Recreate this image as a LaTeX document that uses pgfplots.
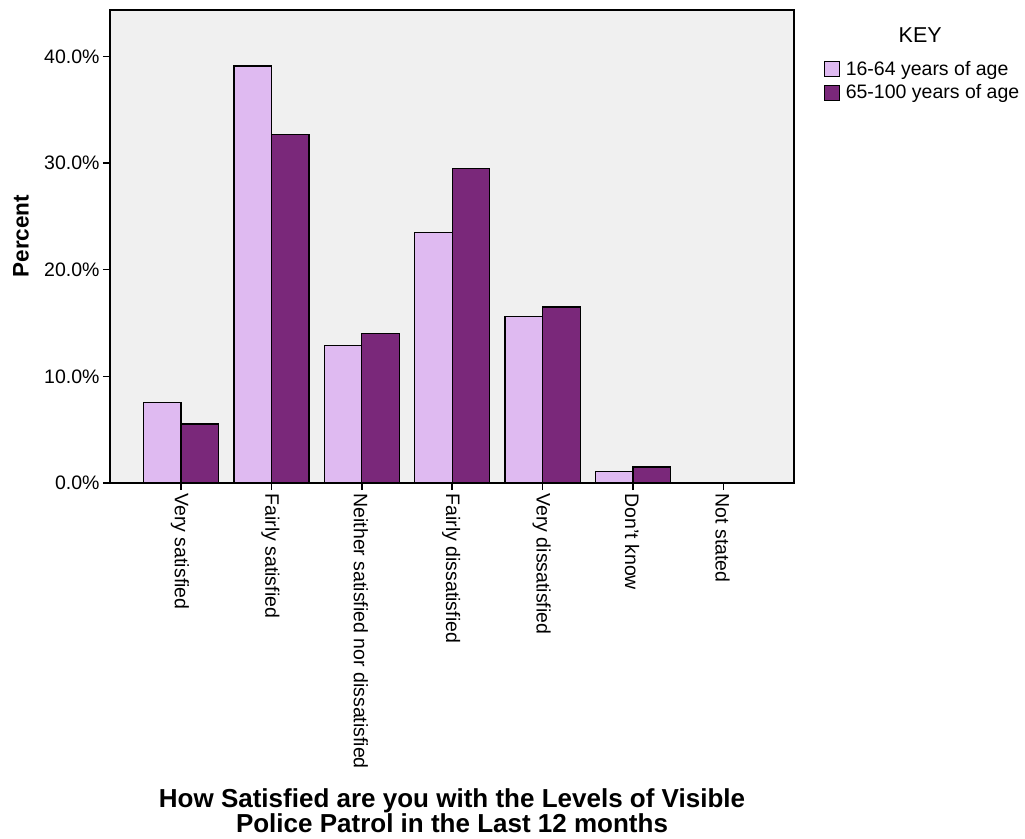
\documentclass[border=0pt]{standalone}
\usepackage{pgfplots}
\pgfplotsset{compat=1.18}
\usepackage{fontspec}
\setmainfont{Liberation Sans}
\definecolor{lightpurple}{RGB}{223,186,241}
\definecolor{darkpurple}{RGB}{122,40,122}
\definecolor{bggray}{RGB}{240,240,240}
\begin{document}
\begin{tikzpicture}
\begin{axis}[
  scale only axis,
  width=684pt, height=473pt,
  ybar=0pt, bar width=0.415,
  xmin=-0.785, xmax=6.78,
  ymin=0, ymax=44.35,
  axis background/.style={fill=bggray},
  axis line style={line width=1.2pt},
  xtick={0,1,2,3,4,5,6},
  xticklabels={Very satisfied, Fairly satisfied, Neither satisfied nor dissatisfied, Fairly dissatisfied, Very dissatisfied, Don't know, Not stated},
  ytick={0,10,20,30,40},
  yticklabels={0.0\%,10.0\%,20.0\%,30.0\%,40.0\%},
  tick align=outside,
  major tick length=7pt,
  tick style={line width=1.6pt, black},
  xtick pos=bottom, ytick pos=left,
  ticklabel style={font=\fontsize{19.5pt}{22pt}\selectfont},
  xticklabel style={rotate=-90, anchor=west, xshift=0pt, yshift=-1pt},
  every axis y label/.style={at={(axis description cs:0,0.522)}, xshift=-89pt, rotate=90, anchor=center, font=\fontsize{22.5pt}{26pt}\selectfont\bfseries},
  ylabel={Percent},
  every axis x label/.style={at={(axis description cs:0.5,0)}, yshift=-302pt, anchor=north, align=center, font=\fontsize{26pt}{25pt}\selectfont\bfseries},
  xlabel={How Satisfied are you with the Levels of Visible\\Police Patrol in the Last 12 months},
  legend style={at={(rel axis cs:1,1)}, anchor=north west, xshift=28pt, yshift=-47pt, draw=none, fill=none, font=\fontsize{19.5pt}{22pt}\selectfont, row sep=4pt, inner sep=2pt},
  legend cell align=left,
  legend image code/.code={\draw[#1, line width=1.2pt] (0pt,-7.5pt) rectangle (15pt,7.5pt); \path[draw=none, fill=none] (0pt,0pt) -- (19pt,0pt);},
  clip=false,
]
\addplot[fill=lightpurple, draw=black, line width=1.3pt] coordinates {(0,7.55) (1,39.1) (2,12.87) (3,23.5) (4,15.6) (5,1.1) (6,0)};
\addplot[fill=darkpurple, draw=black, line width=1.3pt] coordinates {(0,5.53) (1,32.7) (2,14.0) (3,29.5) (4,16.5) (5,1.5) (6,0)};
\legend{16-64 years of age, 65-100 years of age}
\node[font=\fontsize{21.5pt}{24pt}\selectfont] at (rel axis cs:1.1845,0.947) {KEY};
\coordinate (LL) at (rel axis cs:0,0);
\coordinate (UR) at (rel axis cs:1,1);
\end{axis}
\pgfresetboundingbox
\path ([shift={(-110pt,-356pt)}]LL) rectangle ([shift={(231pt,10pt)}]UR);
\end{tikzpicture}
\end{document}
